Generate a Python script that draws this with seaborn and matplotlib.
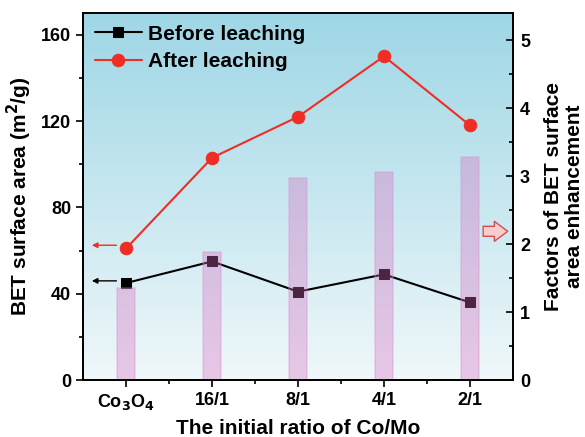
import numpy as np
import pandas as pd
import matplotlib
matplotlib.use("Agg")
import matplotlib.pyplot as plt
import seaborn as sns
from matplotlib.patches import FancyArrowPatch
from matplotlib.colors import LinearSegmentedColormap

sns.set_theme(style="ticks")
plt.rcParams['font.family'] = ['Liberation Sans', 'DejaVu Sans']
plt.rcParams['font.weight'] = 'bold'
plt.rcParams['mathtext.default'] = 'bf'
plt.rcParams['text.color'] = 'black'
plt.rcParams['axes.labelcolor'] = 'black'
plt.rcParams['xtick.color'] = 'black'
plt.rcParams['ytick.color'] = 'black'

categories = ["Co$_3$O$_4$", "16/1", "8/1", "4/1", "2/1"]
before = [45, 55, 41, 49, 36]
after = [61, 103, 122, 150, 118]
factors = [1.36, 1.88, 2.98, 3.06, 3.28]

df = pd.DataFrame({"ratio": categories, "Before leaching": before,
                   "After leaching": after, "factor": factors})

fig = plt.figure(figsize=(5.85, 4.37), dpi=100)
ax = fig.add_axes([0.142, 0.130, 0.735, 0.840])
ax2 = ax.twinx()

# gradient background
cmap = LinearSegmentedColormap.from_list("bg", [(0.94, 0.97, 0.98), (0.62, 0.84, 0.90)])
grad = np.linspace(0, 1, 256).reshape(-1, 1)
ax.imshow(grad, aspect='auto', cmap=cmap, origin='lower',
          extent=[-0.5, 4.5, 0, 170], zorder=0)

xs = np.arange(len(categories))
sns.lineplot(x=xs, y=df["Before leaching"], ax=ax, color='black', marker='s',
             markersize=7.5, markeredgecolor='black', linewidth=1.5,
             label="Before leaching", zorder=3, sort=False)
sns.lineplot(x=xs, y=df["After leaching"], ax=ax, color='#ee2e24', marker='o',
             markersize=9, markeredgecolor='#ee2e24', linewidth=1.5,
             label="After leaching", zorder=3, sort=False)

sns.barplot(x=xs, y=df["factor"], ax=ax2, width=0.2, color='#d86cc0', saturation=1,
            alpha=0.35, edgecolor='#d98ccc', linewidth=1.2, native_scale=True)

ax.set_xlim(-0.5, 4.5)
ax.set_ylim(0, 170)
ax2.set_ylim(0, 5.4)
ax2.patch.set_visible(False)
ax2.set_xlabel("")

ax.set_xticks(xs)
ax.set_xticklabels(categories, fontsize=13, fontweight='bold')
ax.set_xticks(xs[:-1] + 0.5, minor=True)
ax.set_xlim(-0.5, 4.5)
ax.set_yticks([0, 40, 80, 120, 160])
ax.set_yticks([20, 60, 100, 140], minor=True)
ax.tick_params(axis='both', which='major', labelsize=13, direction='out', length=5, width=1.2)
ax.tick_params(axis='both', which='minor', direction='out', length=3, width=1.2)
ax.tick_params(axis='x', top=False, which='both')
for lab in ax.get_yticklabels():
    lab.set_fontweight('bold')

ax2.set_yticks([0, 1, 2, 3, 4, 5])
ax2.set_yticks([0.5, 1.5, 2.5, 3.5, 4.5], minor=True)
ax2.tick_params(axis='y', which='major', labelsize=13, direction='in', length=5, width=1.2, pad=5)
ax2.tick_params(axis='y', which='minor', direction='in', length=3, width=1.2)
for lab in ax2.get_yticklabels():
    lab.set_fontweight('bold')

for a in (ax, ax2):
    for s in a.spines.values():
        s.set_linewidth(1.3)
        s.set_color('black')

ax.set_xlabel("The initial ratio of Co/Mo", fontsize=15, fontweight='bold', labelpad=5)
ax.set_ylabel("BET surface area (m$^2$/g)", fontsize=15, fontweight='bold', labelpad=5)
ax2.set_ylabel("Factors of BET surface\narea enhancement", fontsize=15,
               fontweight='bold', labelpad=10, linespacing=1.15)

leg = ax.legend(loc='upper left', frameon=False, handlelength=2.3,
                borderaxespad=0.25, borderpad=0.3, handletextpad=0.25, labelspacing=0.4,
                prop={'weight': 'bold', 'size': 15})
for t in leg.get_texts():
    t.set_color('black')

# indicator arrows
ax.annotate("", xy=(-0.43, 62.5), xytext=(-0.08, 62.5),
            arrowprops=dict(arrowstyle='-|>', color='#ee2e24', lw=1.0,
                            mutation_scale=8), zorder=4)
ax.annotate("", xy=(-0.43, 46), xytext=(-0.08, 46),
            arrowprops=dict(arrowstyle='-|>', color='black', lw=1.0,
                            mutation_scale=8), zorder=4)
arr = FancyArrowPatch((4.12, 2.19), (4.47, 2.19), arrowstyle='simple,head_width=1.2,head_length=0.8,tail_width=0.6',
                      mutation_scale=12, facecolor='#f6cccc', edgecolor='#d05050', lw=1.0, zorder=5)
ax2.add_patch(arr)

fig.savefig("out.png", dpi=100)
